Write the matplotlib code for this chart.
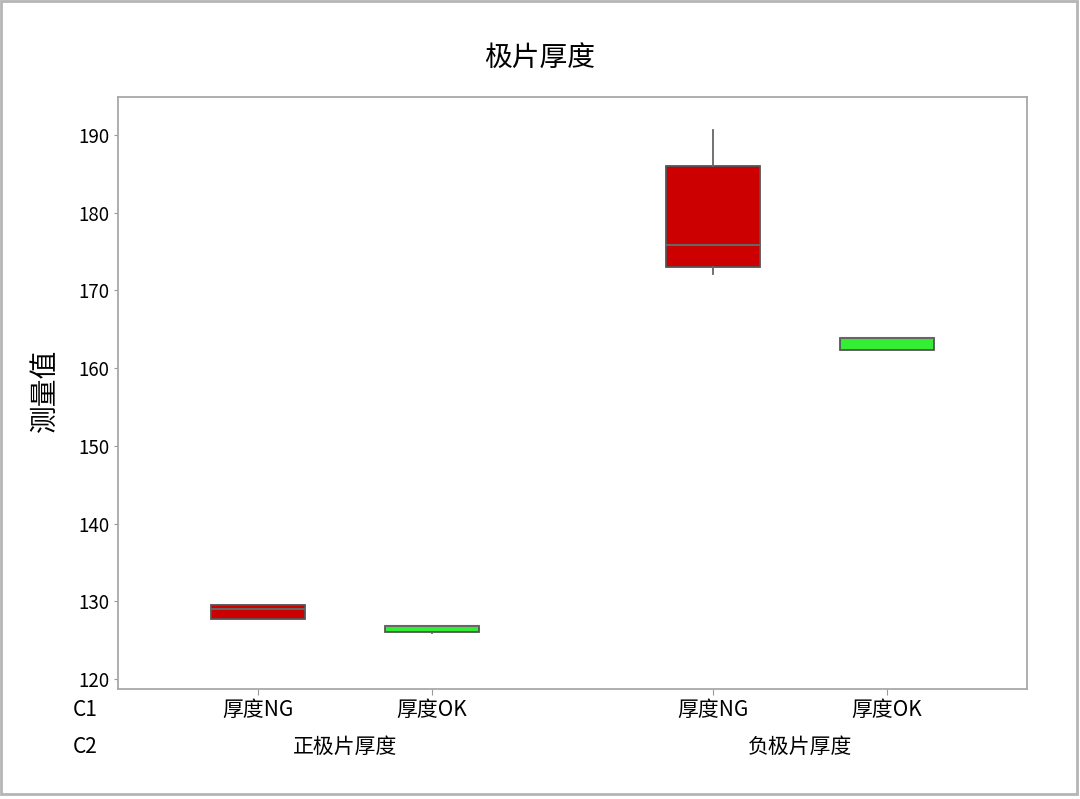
import matplotlib.pyplot as plt
from matplotlib.patches import Rectangle

plt.rcParams['font.family'] = ['Noto Sans CJK SC', 'DejaVu Sans']

# box summaries
groups = ['正极片厚度', '负极片厚度']
cats = ['厚度NG', '厚度OK', '厚度NG', '厚度OK']
whislo = [127.7, 125.9, 172.1, 162.3]
q1 = [127.7, 126.1, 173.0, 162.3]
med = [129.0, 126.85, 175.9, 163.9]
q3 = [129.5, 126.85, 186.0, 163.9]
whishi = [129.5, 126.85, 190.6, 163.9]
colors = ['#cc0000', '#33ee33', '#cc0000', '#33ee33']
yticks = [120, 130, 140, 150, 160, 170, 180, 190]

fig = plt.figure(figsize=(10.8, 7.99), dpi=100)
ax = fig.add_axes([118/1080, 1 - 689/799, (1027-118)/1080, (689-97)/799])

pos = [1, 2, 3.615, 4.615]
stats = [dict(whislo=a, q1=b, med=c, q3=d, whishi=e, fliers=[])
         for a, b, c, d, e in zip(whislo, q1, med, q3, whishi)]
bp = ax.bxp(stats, positions=pos, widths=0.545, patch_artist=True, showcaps=False,
            boxprops=dict(edgecolor='#555555', linewidth=1.3),
            whiskerprops=dict(color='#666666', linewidth=1.3),
            medianprops=dict(color='#666666', linewidth=1.5))
for patch, c in zip(bp['boxes'], colors):
    patch.set_facecolor(c)

ax.set_xlim(0.195, 5.42)
ax.set_ylim(118.7, 194.9)
ax.set_yticks(yticks)
ax.set_xticks(pos)
ax.set_xticklabels([])
ax.tick_params(axis='y', labelsize=13.5, length=3, color='#999999', pad=3)
ax.tick_params(axis='x', length=4, color='#999999')
for s in ax.spines.values():
    s.set_color('#a8a8a8')
    s.set_linewidth(1.3)

# category rows under the axis
tr = ax.get_xaxis_transform()
for p, c in zip(pos, cats):
    ax.text(p, 1 - (710-97)/(689-97), c, transform=tr, ha='center', va='center', fontsize=15)
for i, g in enumerate(groups):
    ax.text((pos[2*i] + pos[2*i+1]) / 2, 1 - (747-97)/(689-97), g, transform=tr,
            ha='center', va='center', fontsize=15)
fig.text(73/1080, 1 - 710/799, 'C1', ha='left', va='center', fontsize=15)
fig.text(73/1080, 1 - 747/799, 'C2', ha='left', va='center', fontsize=15)

fig.text(540/1080, 1 - 58/799, '极片厚度', ha='center', va='center', fontsize=20)
fig.text(45/1080, 1 - 390/799, '测量值', ha='center', va='center', rotation=90, fontsize=20)

fig.patches.append(Rectangle((1/1080, 5/799), 1076/1080, 793/799, transform=fig.transFigure,
                             fill=False, edgecolor='#b5b5b5', linewidth=2))

fig.savefig('out.png', dpi=100)
